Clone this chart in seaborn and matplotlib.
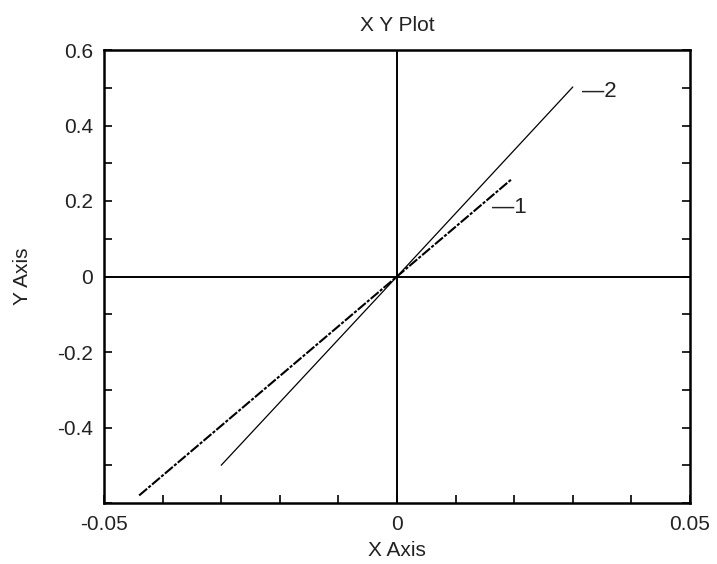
import matplotlib
matplotlib.use("Agg")
import matplotlib.pyplot as plt
from matplotlib.ticker import MultipleLocator, FixedLocator
import seaborn as sns
import pandas as pd

# Series endpoints (x, y) for the two traces
x1 = [-0.0440, 0.0, 0.0195]
y1 = [-0.580, 0.0, 0.257]
x2 = [-0.0300, 0.0, 0.0300]
y2 = [-0.500, 0.0, 0.502]

series_names = ["1", "2"]
x_ticks = [-0.05, 0.0, 0.05]
x_tick_labels = ["-0.05", "0", "0.05"]
y_ticks = [-0.4, -0.2, 0.0, 0.2, 0.4, 0.6]
y_tick_labels = ["-0.4", "-0.2", "0", "0.2", "0.4", "0.6"]

sns.set_style("white")
plt.rcParams["font.family"] = ["Liberation Sans", "DejaVu Sans"]

fig = plt.figure(figsize=(7.17, 5.64), dpi=100)
ax = fig.add_axes([104 / 717, 61 / 564, 586 / 717, 453 / 564])

df1 = pd.DataFrame({"x": x1, "y": y1})
df2 = pd.DataFrame({"x": x2, "y": y2})
sns.lineplot(data=df1, x="x", y="y", ax=ax, sort=False, color="black",
             linewidth=1.5, linestyle=(0, (5, 0.8, 1.5, 0.8)))
sns.lineplot(data=df2, x="x", y="y", ax=ax, sort=False, color="black",
             linewidth=0.9)

# zero crosshair
ax.axhline(0, color="black", linewidth=1.4, zorder=1)
ax.axvline(0, color="black", linewidth=1.4, zorder=1)

ax.set_xlim(-0.05, 0.05)
ax.set_ylim(-0.6, 0.6)
ax.xaxis.set_major_locator(FixedLocator(x_ticks))
ax.set_xticklabels(x_tick_labels)
ax.xaxis.set_minor_locator(MultipleLocator(0.01))
ax.yaxis.set_major_locator(FixedLocator(y_ticks))
ax.set_yticklabels(y_tick_labels)
ax.yaxis.set_minor_locator(MultipleLocator(0.1))

ax.tick_params(axis="both", which="both", direction="in", length=6,
               width=1.2, color="black", labelsize=15, labelcolor="#222222",
               left=True, right=True, bottom=True, top=False)
ax.tick_params(axis="x", pad=9)
ax.tick_params(axis="y", pad=8)
for sp in ax.spines.values():
    sp.set_color("black")
    sp.set_linewidth(1.8)

# trace labels at the upper ends
ax.text(x2[-1] + 0.0016, 0.489, "\u2014" + series_names[1], fontsize=16,
        va="center", ha="left", color="#222222")
ax.text(0.0162, 0.184, "\u2014" + series_names[0], fontsize=16,
        va="center", ha="left", color="#222222")

ax.set_title("X Y Plot", fontsize=15, pad=14, color="#222222")
ax.set_xlabel("X Axis", fontsize=15, labelpad=5, color="#222222")
ax.set_ylabel("Y Axis", fontsize=15, labelpad=18, color="#222222")

fig.savefig("out.png", dpi=100)
